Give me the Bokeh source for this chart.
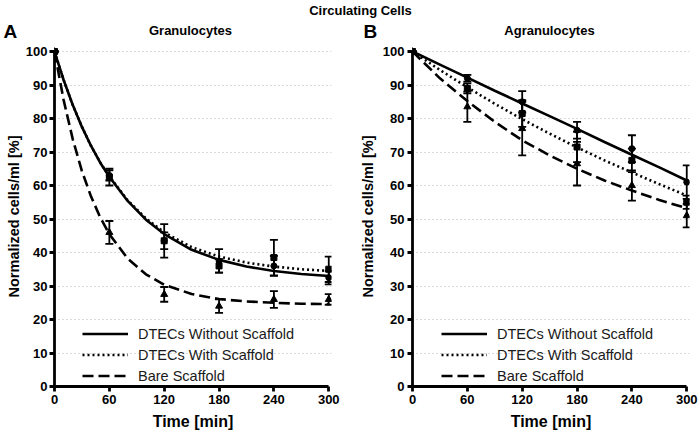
from bokeh.plotting import figure
from bokeh.layouts import column, row
from bokeh.models import Range1d, FixedTicker, Legend, LegendItem
from bokeh.embed import file_html
from bokeh.resources import INLINE
from bokeh.core.properties import value

FONT = "Liberation Sans"

# ---------------- data ----------------
main_title = "Circulating Cells"
panel_letters = ["A", "B"]
panel_titles = ["Granulocytes", "Agranulocytes"]
series_names = ["DTECs Without Scaffold", "DTECs With Scaffold", "Bare Scaffold"]
x_ticks = [0, 60, 120, 180, 240, 300]
y_ticks = [0, 10, 20, 30, 40, 50, 60, 70, 80, 90, 100]
times = [0, 60, 120, 180, 240, 300]

# Panel A: Granulocytes (measured means and error)
gran_without = [100, 63.0, 43.5, 37.5, 36.0, 32.5]
gran_without_err = [0, 1.5, 5.0, 3.5, 3.0, 2.0]
gran_with = [100, 62.5, 43.5, 36.0, 38.5, 35.0]
gran_with_err = [0, 2.5, 2.5, 2.0, 5.3, 3.8]
gran_bare = [100, 46.0, 27.5, 24.0, 26.0, 26.0]
gran_bare_err = [0, 3.4, 2.2, 2.0, 2.5, 1.6]

# Panel A fitted curves
gran_fit_t = [0, 10, 20, 30, 40, 50, 60, 80, 100, 120, 150, 180, 210, 240, 270, 300]
gran_fit_without = [100, 91.5, 84.0, 77.5, 71.8, 66.8, 62.6, 55.4, 49.8, 45.5, 40.8, 37.8, 35.8, 34.5, 33.6, 33.0]
gran_fit_with = [100, 91.5, 84.0, 77.5, 71.8, 66.9, 62.7, 55.6, 50.2, 46.0, 41.6, 38.8, 37.0, 35.8, 35.0, 34.5]
gran_fit_bare = [100, 85.5, 73.8, 64.3, 56.7, 50.5, 45.5, 38.2, 33.5, 30.4, 27.6, 26.1, 25.4, 25.0, 24.7, 24.6]

# Panel B: Agranulocytes
agran_without = [100, 92.0, 85.0, 76.5, 71.0, 61.0]
agran_without_err = [0, 1.0, 3.2, 2.5, 4.0, 5.0]
agran_with = [100, 89.0, 81.5, 71.5, 67.5, 55.0]
agran_with_err = [0, 1.5, 4.0, 4.5, 3.5, 2.0]
agran_bare = [100, 83.5, 77.0, 66.5, 60.0, 51.0]
agran_bare_err = [0, 4.5, 8.0, 6.5, 4.5, 3.5]

# Panel B fitted curves
agran_fit_t = [0, 30, 60, 90, 120, 150, 180, 210, 240, 270, 300]
agran_fit_without = [100, 96.1, 92.2, 88.3, 84.5, 80.7, 76.9, 73.0, 69.2, 65.4, 61.5]
agran_fit_with = [100, 94.5, 89.3, 84.4, 79.8, 75.5, 71.4, 67.5, 63.9, 60.4, 57.0]
agran_fit_bare = [100, 92.0, 85.2, 79.0, 73.5, 69.0, 65.0, 61.5, 58.5, 55.7, 53.2]

line_dashes = ["solid", "2 3", "11 5"]
markers = ["circle", "square", "triangle"]
marker_sizes = [6, 6, 7]

TOP_H = 42


def make_panel(means, errs, fit_t, fits, width, left_border, right_border, legend_x,
               ylab_standoff, ytick_standoff):
    p = figure(width=width, height=439 - TOP_H, x_range=Range1d(0, 303),
               y_range=Range1d(0, 101.5),
               toolbar_location=None, output_backend="svg",
               min_border_left=left_border, min_border_right=right_border,
               min_border_top=4, min_border_bottom=53)
    p.outline_line_color = None
    p.background_fill_color = "white"
    p.xgrid.visible = False
    p.ygrid.ticker = FixedTicker(ticks=y_ticks[1:])
    p.ygrid.grid_line_color = "#b5b5b5"
    p.ygrid.grid_line_dash = "1 3"
    p.ygrid.grid_line_width = 1

    for ax in (p.xaxis, p.yaxis):
        ax.axis_line_width = 2.8
        ax.axis_line_color = "black"
        ax.major_tick_line_width = 2.8
        ax.major_tick_line_color = "black"
        ax.major_tick_out = 5
        ax.major_tick_in = 0
        ax.minor_tick_line_color = None
        ax.major_label_text_font = FONT
        ax.major_label_text_font_style = "bold"
        ax.major_label_text_font_size = "13px"
        ax.major_label_text_color = "black"
        ax.axis_label_text_font = FONT
        ax.axis_label_text_font_style = "bold"
        ax.axis_label_text_color = "black"
    p.xaxis.major_label_standoff = 3
    p.yaxis.major_label_standoff = ytick_standoff
    p.xaxis.axis_label_text_font_size = "16px"
    p.yaxis.axis_label_text_font_size = "14.5px"
    p.xaxis.ticker = FixedTicker(ticks=x_ticks)
    p.yaxis.ticker = FixedTicker(ticks=y_ticks)
    p.xaxis.bounds = (0, 300)
    p.yaxis.bounds = (0, 100)
    p.xaxis.axis_label = "Time [min]"
    p.yaxis.axis_label = "Normalized cells/ml [%]"
    p.xaxis.axis_label_standoff = 6
    p.yaxis.axis_label_standoff = ylab_standoff

    line_renderers = []
    for i in range(3):
        r = p.line(fit_t, fits[i], line_color="black", line_width=2.6,
                   line_dash=line_dashes[i])
        line_renderers.append(r)

    for i in range(3):
        m = means[i]
        e = errs[i]
        lo = [a - b for a, b in zip(m, e)]
        hi = [a + b for a, b in zip(m, e)]
        p.segment(x0=times, y0=lo, x1=times, y1=hi, line_color="black", line_width=1.8)
        p.scatter(times, lo, marker="dash", size=8, line_color="black", line_width=1.8)
        p.scatter(times, hi, marker="dash", size=8, line_color="black", line_width=1.8)
        p.scatter(times, m, marker=markers[i], size=marker_sizes[i],
                  fill_color="black", line_color="black")

    legend = Legend(items=[LegendItem(label=series_names[i], renderers=[line_renderers[i]])
                           for i in range(3)],
                    location=(legend_x, 0))
    legend.background_fill_alpha = 0
    legend.border_line_color = None
    legend.padding = 0
    legend.margin = 0
    legend.spacing = 0
    legend.glyph_width = 46
    legend.glyph_height = 21
    legend.label_height = 21
    legend.label_standoff = 10
    legend.label_text_font = FONT
    legend.label_text_font_size = "14.5px"
    legend.label_text_color = "#1a1a1a"
    p.add_layout(legend, "center")
    return p


pA = make_panel([gran_without, gran_with, gran_bare],
                [gran_without_err, gran_with_err, gran_bare_err],
                gran_fit_t, [gran_fit_without, gran_fit_with, gran_fit_bare],
                width=350, left_border=54, right_border=19, legend_x=28,
                ylab_standoff=1, ytick_standoff=2)
pB = make_panel([agran_without, agran_with, agran_bare],
                [agran_without_err, agran_with_err, agran_bare_err],
                agran_fit_t, [agran_fit_without, agran_fit_with, agran_fit_bare],
                width=350, left_border=62, right_border=11, legend_x=29,
                ylab_standoff=4, ytick_standoff=3)

# header strip with main title, panel letters and panel titles (pixel coordinates)
pT = figure(width=700, height=TOP_H, x_range=Range1d(0, 700), y_range=Range1d(0, TOP_H),
            toolbar_location=None, output_backend="svg", min_border=0)
pT.axis.visible = False
pT.grid.visible = False
pT.outline_line_color = None
pT.text(x=[360], y=[TOP_H - 10], text=[main_title], text_font=value(FONT),
        text_font_style="bold", text_font_size="13px", text_align="center",
        text_baseline="middle", text_color="black")
pT.text(x=[190, 549], y=[TOP_H - 30, TOP_H - 30], text=panel_titles, text_font=value(FONT),
        text_font_style="bold", text_font_size="13px", text_align="center",
        text_baseline="middle", text_color="black")
pT.text(x=[3, 363], y=[TOP_H - 31, TOP_H - 31], text=panel_letters, text_font=value(FONT),
        text_font_style="bold", text_font_size="19px", text_align="left",
        text_baseline="middle", text_color="black")

layout = column(pT, row(pA, pB, spacing=0), spacing=0)

open("out.html", "w").write(file_html(layout, INLINE))
